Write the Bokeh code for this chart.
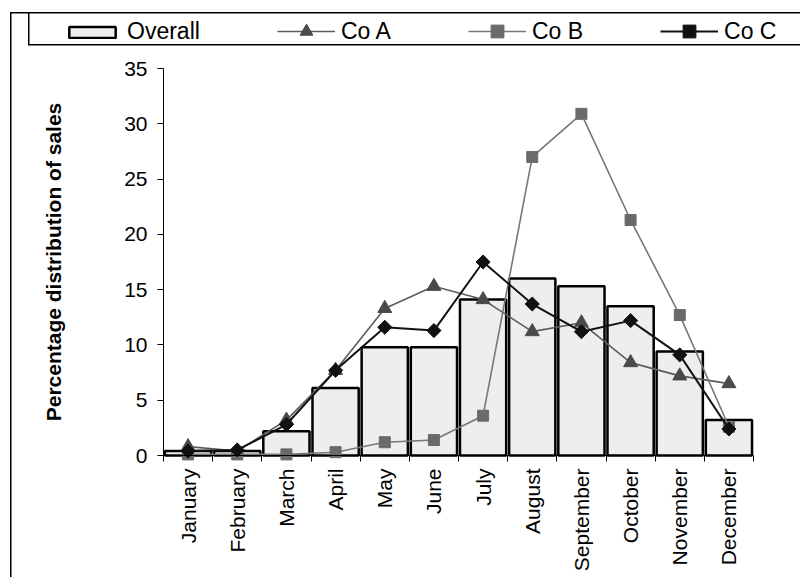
import math
from bokeh.plotting import figure
from bokeh.models import (Range1d, FixedTicker, Legend, LegendItem)
from bokeh.embed import file_html
from bokeh.resources import INLINE

months = ["January", "February", "March", "April", "May", "June", "July",
          "August", "September", "October", "November", "December"]
overall = [0.4, 0.4, 2.2, 6.1, 9.8, 9.8, 14.1, 16.0, 15.3, 13.5, 9.4, 3.2]
co_a = [0.8, 0.4, 3.2, 7.7, 13.3, 15.3, 14.1, 11.2, 12.0, 8.4, 7.2, 6.5]
co_b = [0.1, 0.1, 0.1, 0.3, 1.2, 1.4, 3.6, 27.0, 30.9, 21.3, 12.7, 2.6]
co_c = [0.4, 0.5, 2.8, 7.7, 11.6, 11.3, 17.5, 13.7, 11.2, 12.2, 9.1, 2.4]
y_ticks = [0, 5, 10, 15, 20, 25, 30, 35]
y_max = 35

n = len(months)
xs = [i + 0.5 for i in range(n)]
bounds = list(range(n + 1))

FONT = "Liberation Sans"
W, H = 800, 577
# plot area in pixels (left, right, top, bottom) inside a full-canvas frame
PL, PR, PT, PB = 163, 753, 68, 455
px = (PR - PL) / n
py = (PB - PT) / y_max
x_range = Range1d(-PL / px, n + (W - PR) / px)
y_range = Range1d(-(H - PB) / py, y_max + PT / py)

p = figure(width=W, height=H, x_range=x_range, y_range=y_range,
           output_backend="svg", toolbar_location=None,
           min_border_left=0, min_border_right=0, min_border_top=0, min_border_bottom=0)
p.xgrid.visible = False
p.ygrid.visible = False
p.outline_line_color = None
p.background_fill_alpha = 0
p.border_fill_alpha = 0

# thin frame lines of the chart area and of the legend box (page CSS)
seg = "linear-gradient(#000,#000)"
p.styles = {
    "background-color": "white",
    "background-image": ", ".join([seg] * 4),
    "background-position": "10px 12px, 10px 12px, 28px 12px, 28px 44px",
    "background-size": "1.5px 565px, 790px 1.5px, 1.5px 33px, 772px 1.5px",
    "background-repeat": "no-repeat",
}

# y axis
ya = p.yaxis[0]
ya.fixed_location = 0
ya.bounds = (0, y_max)
ya.ticker = FixedTicker(ticks=y_ticks)
ya.major_tick_out = 6
ya.major_tick_in = 0
ya.minor_tick_line_color = None
ya.axis_line_color = "black"
ya.major_tick_line_color = "black"
ya.major_label_standoff = 10
ya.major_label_text_font = FONT
ya.major_label_text_font_size = "21px"
ya.major_label_text_color = "black"
ya.axis_label = "Percentage distribution of sales"
ya.axis_label_text_font = FONT
ya.axis_label_text_font_style = "bold"
ya.axis_label_text_font_size = "21px"
ya.axis_label_text_color = "black"
ya.axis_label_standoff = 56

# x axis: labels at centres, ticks at category boundaries
xa = p.xaxis[0]
xa.fixed_location = 0
xa.bounds = (0, n)
xa.ticker = FixedTicker(ticks=xs, minor_ticks=bounds)
xa.major_label_overrides = {x: m for x, m in zip(xs, months)}
xa.major_tick_line_color = None
xa.major_tick_out = 6
xa.major_tick_in = 0
xa.minor_tick_out = 6
xa.minor_tick_in = 0
xa.minor_tick_line_color = "black"
xa.axis_line_color = "black"
xa.major_label_orientation = math.pi / 2
xa.major_label_standoff = 7
xa.major_label_text_font = FONT
xa.major_label_text_font_size = "21px"
xa.major_label_text_color = "black"

bars = p.vbar(x=xs, top=overall, width=0.94, bottom=0,
              fill_color="#eeeeee", line_color="black", line_width=2.5)

la = p.line(xs, co_a, line_color="#5c5c5c", line_width=1.6)
sa = p.scatter(xs, co_a, marker="triangle", size=14, fill_color="#4a4a4a", line_color="#4a4a4a")
lb = p.line(xs, co_b, line_color="#777777", line_width=1.6)
sb = p.scatter(xs, co_b, marker="square", size=11, fill_color="#6a6a6a", line_color="#6a6a6a")
lc = p.line(xs, co_c, line_color="#111111", line_width=2)
sc = p.scatter(xs, co_c, marker="square", size=10, angle=math.pi / 4,
               fill_color="#111111", line_color="#111111")

common = dict(orientation="horizontal", border_line_color=None, background_fill_alpha=0,
              padding=0, margin=0, label_standoff=6, glyph_width=58,
              label_text_font=FONT, label_text_font_size="23px", label_text_color="black")

legend_bar = Legend(items=[LegendItem(label="Overall", renderers=[bars])],
                    location=(63, H - 45), glyph_height=14, **common)
legend_lines = Legend(items=[LegendItem(label="Co A", renderers=[la, sa]),
                             LegendItem(label="Co B", renderers=[lb, sb]),
                             LegendItem(label="Co C", renderers=[lc, sc])],
                      location=(277, H - 47), glyph_height=32, spacing=77, **common)
p.add_layout(legend_bar, "center")
p.add_layout(legend_lines, "center")

open("out.html", "w").write(file_html(p, INLINE))
